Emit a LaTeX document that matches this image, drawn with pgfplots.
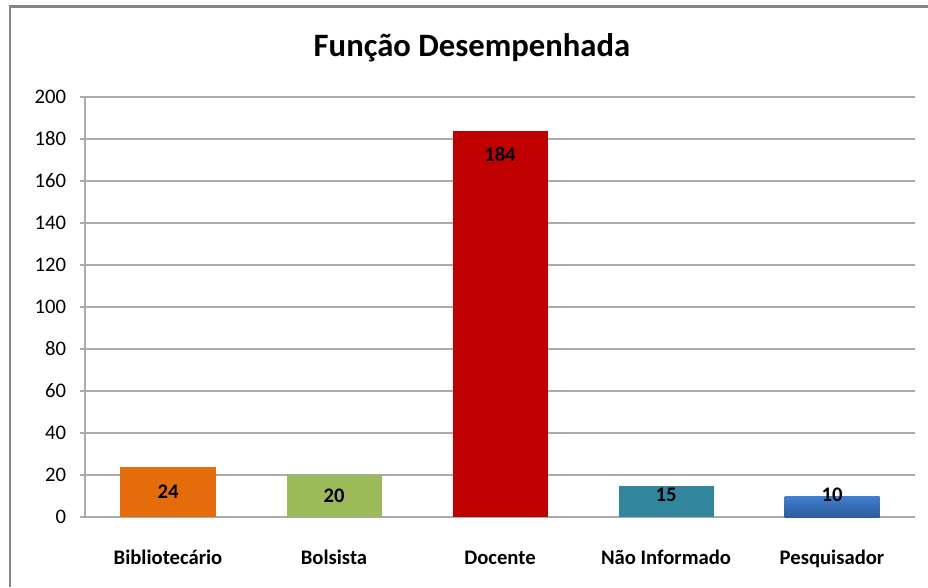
\documentclass[border=0pt]{standalone}
\usepackage{pgfplots}
\pgfplotsset{compat=1.18}
\usepackage{fontspec}
\setmainfont{Carlito}

\definecolor{cOrange}{HTML}{E46C0A}
\definecolor{cGreen}{HTML}{9BBB59}
\definecolor{cRed}{HTML}{C00000}
\definecolor{cTeal}{HTML}{31859C}
\definecolor{cBlueTop}{HTML}{4080D0}
\definecolor{cBlueBot}{HTML}{2E5C9C}
\definecolor{cGrid}{HTML}{ABABAB}
\definecolor{cFrame}{HTML}{868686}

\begin{document}
\begin{tikzpicture}
\useasboundingbox (-63.75pt,-52.5pt) rectangle (632.25pt,387.75pt);
\begin{axis}[
  scale only axis, width=622.5pt, height=315pt,
  xmin=-0.5, xmax=4.5, ymin=0, ymax=200,
  ytick={0,20,...,200},
  xtick={0,1,2,3,4},
  xticklabels={Bibliotecário,Bolsista,Docente,Não Informado,Pesquisador},
  axis lines*=left,
  axis line style={cGrid, line width=1.1pt},
  ymajorgrids, grid style={cGrid, line width=1.1pt},
  major tick length=4pt,
  ytick style={cGrid, line width=1.1pt},
  xtick style={draw=none},
  tick align=outside,
  /pgf/number format/assume math mode=true,
  yticklabel style={font=\fontsize{15.5}{18}\selectfont, anchor=east, inner sep=0pt, xshift=-10pt},
  xticklabel style={font=\fontsize{15.5}{18}\selectfont\bfseries, anchor=base, yshift=-31.5pt},
  ybar, bar width=71.25pt,
]
\addplot[bar shift=0pt, draw=none, fill=cOrange] coordinates {(0,24)};
\addplot[bar shift=0pt, draw=none, fill=cGreen] coordinates {(1,20)};
\addplot[bar shift=0pt, draw=none, fill=cRed] coordinates {(2,184)};
\addplot[bar shift=0pt, draw=none, fill=cTeal] coordinates {(3,15)};
\addplot[bar shift=0pt, draw=none, top color=cBlueTop, bottom color=cBlueBot] coordinates {(4,10)};
\addplot[draw=none, mark=none, sharp plot, nodes near coords, point meta=explicit symbolic,
  every node near coord/.append style={anchor=center, font=\fontsize{15.5}{18}\selectfont\bfseries, text=black}]
  coordinates {(0,12.1)[24] (1,10.2)[20] (2,172.6)[184] (3,10.5)[15] (4,10.5)[10]};
\end{axis}
\draw[cFrame, line width=1.6pt] (-56.25pt,-52.5pt) -- (-56.25pt,382.9pt) -- (632.25pt,382.9pt);
\node[font=\fontsize{24.5}{29}\selectfont\bfseries, anchor=base] at (290.25pt,345pt) {Função Desempenhada};
\end{tikzpicture}
\end{document}
